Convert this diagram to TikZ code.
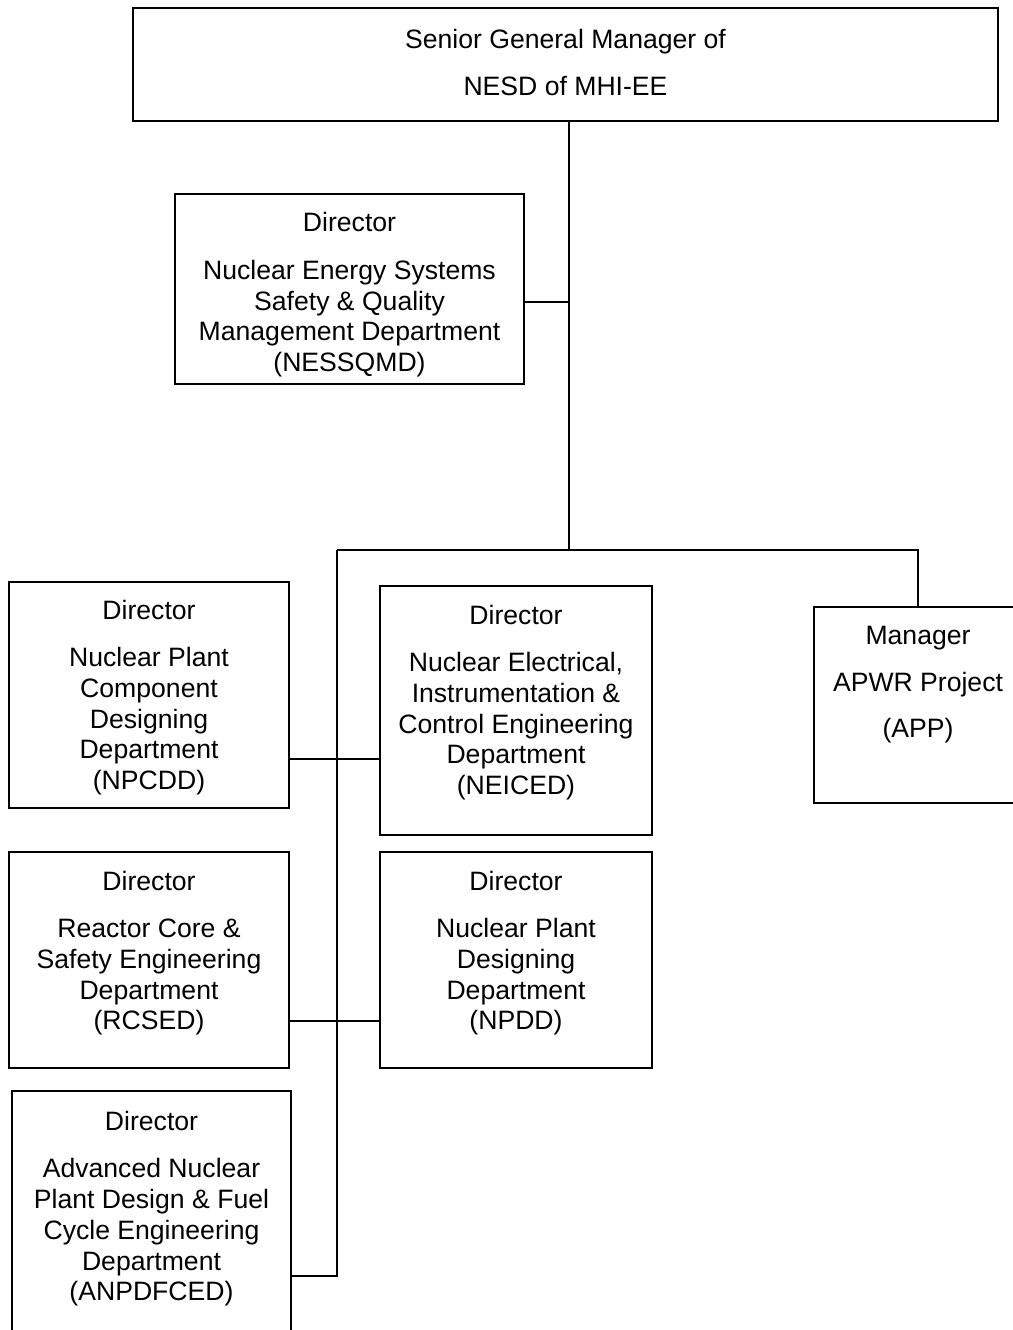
\documentclass[tikz,border=0pt]{standalone}
\usepackage{fontspec}
\setmainfont{Liberation Sans}
\usetikzlibrary{positioning}
\tikzset{
  orgbox/.style 2 args={draw, line width=0.8pt, minimum width=#1, minimum height=#2, inner sep=0pt},
  orgtext/.style={align=center, inner sep=0pt, font=\fontsize{13.3}{15.35}\selectfont},
  link/.style={line width=0.8pt},
}

\begin{document}
\begin{tikzpicture}[x=0.5pt,y=-0.5pt]

  \clip (0,0) rectangle (1013,1330);
  \fill[white] (0,0) rectangle (1013,1330);

  % Senior general manager
  \node[orgbox={432.5pt}{56.5pt}] (sgm) at (565.5,64.5) {};
  \node[orgtext, below=10.75pt of sgm.north] (sgm-t)
    {Senior General Manager of\\[8.15pt] NESD of MHI-EE};

  % Safety & quality dept
  \node[orgbox={174.5pt}{95pt}] (nessqmd) at (349.5,289) {};
  \node[orgtext, below=9.5pt of nessqmd.north] (nessqmd-t)
    {Director\\[8.4pt] Nuclear Energy Systems\\ Safety \& Quality\\ Management Department\\ (NESSQMD)};

  % Left column
  \node[orgbox={140pt}{113pt}] (npcdd) at (149,695) {};
  \node[orgtext, below=9.25pt of npcdd.north] (npcdd-t)
    {Director\\[8.4pt] Nuclear Plant\\ Component\\ Designing\\ Department\\ (NPCDD)};

  \node[orgbox={140pt}{108pt}] (rcsed) at (149,960) {};
  \node[orgtext, below=9.75pt of rcsed.north] (rcsed-t)
    {Director\\[8.4pt] Reactor Core \&\\ Safety Engineering\\ Department\\ (RCSED)};

  \node[orgbox={139.5pt}{127pt}] (anpdfced) at (151.5,1218) {};
  \node[orgtext, below=10.3pt of anpdfced.north] (anpdfced-t)
    {Director\\[8.4pt] Advanced Nuclear\\ Plant Design \& Fuel\\ Cycle Engineering\\ Department\\ (ANPDFCED)};

  % Middle column
  \node[orgbox={136pt}{124.5pt}] (neiced) at (516,710.5) {};
  \node[orgtext, below=9.75pt of neiced.north] (neiced-t)
    {Director\\[8.4pt] Nuclear Electrical,\\ Instrumentation \&\\ Control Engineering\\ Department\\ (NEICED)};

  \node[orgbox={136pt}{108pt}] (npdd) at (516,960) {};
  \node[orgtext, below=9.75pt of npdd.north] (npdd-t)
    {Director\\[8.4pt] Nuclear Plant\\ Designing\\ Department\\ (NPDD)};

  % APWR project
  \node[orgbox={104pt}{98pt}] (app) at (918,705) {};
  \node[orgtext, below=10pt of app.north] (app-t)
    {Manager\\[7.9pt] APWR Project\\[7.9pt] (APP)};

  % Lines
  \coordinate (spine) at (569,550);
  \coordinate (bus-l) at (337,550);
  \coordinate (bus-b) at (337,1276);

  \draw[link] (sgm.south -| spine) -- (spine);
  \draw[link] ([yshift=-6.5pt]nessqmd.east) -- ([yshift=-6.5pt]nessqmd.east -| spine);
  \draw[link] (bus-l) -- (app.north |- spine) -- (app.north);
  \draw[link] (bus-l) -- (bus-b) -- (bus-b -| anpdfced.east);
  \draw[link] ([yshift=-32pt]npcdd.east) -- ([yshift=-32pt]npcdd.east -| neiced.west);
  \draw[link] ([yshift=-30.5pt]rcsed.east) -- ([yshift=-30.5pt]rcsed.east -| npdd.west);

\end{tikzpicture}
\end{document}
